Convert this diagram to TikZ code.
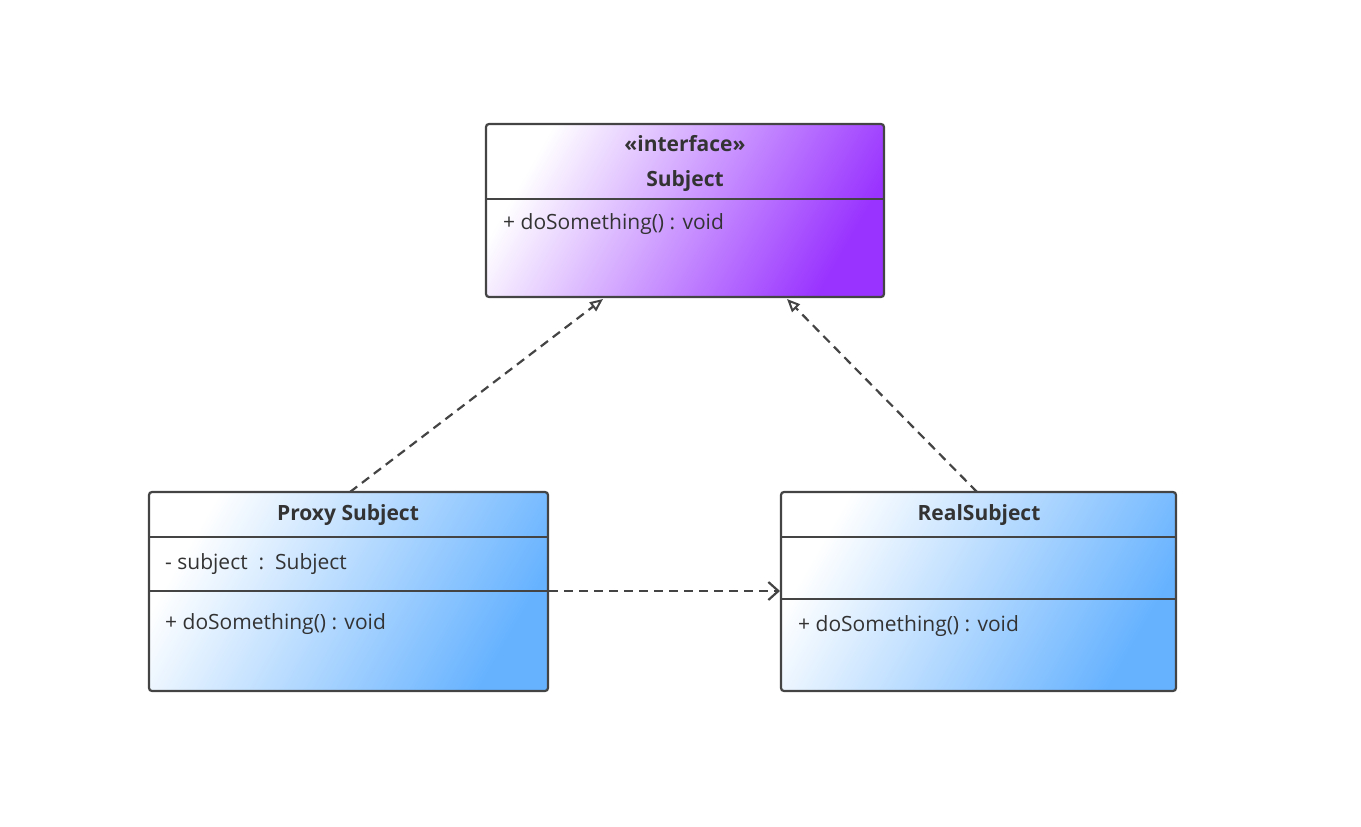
\documentclass[tikz,border=0pt]{standalone}
\usepackage{fontspec}
\setmainfont{Open Sans}
\usetikzlibrary{arrows.meta}
\definecolor{purp}{HTML}{9933FF}
\definecolor{blu}{HTML}{66B2FF}
\definecolor{txt}{HTML}{333333}
\definecolor{ln}{HTML}{444444}
\begin{document}
\begin{tikzpicture}[x=1pt,y=-1pt,
  box/.style={draw=ln,line width=2.2pt,rounded corners=3pt},
  sep/.style={draw=ln,line width=2pt},
  t/.style={text=txt,font=\fontsize{21}{24}\selectfont,inner sep=0},
  tb/.style={t,font=\fontsize{21}{24}\selectfont\bfseries},
  dashln/.style={draw=ln,line width=2.2pt,dash pattern=on 9pt off 6pt}]
\useasboundingbox (0,0) rectangle (1361,827);
% Subject
\shade[left color=white,right color=purp,shading angle=60,rounded corners=3pt] (486,124) rectangle (884,297);
\draw[box] (486,124) rectangle (884,297);
\draw[sep] (486,199) -- (884,199);
\node[tb] (s1) at (685,144) {<<interface>>};
\node[tb] (s2) at (685,181) {Subject};
\node[t,anchor=west] (s3) at (503,224) {+ doSomething() : void};
\coordinate (sub1) at (603,299);
\coordinate (sub2) at (787,299);
% Proxy
\shade[left color=white,right color=blu,shading angle=60,rounded corners=3pt] (149,492) rectangle (548,691);
\draw[box] (149,492) rectangle (548,691);
\draw[sep] (149,537) -- (548,537);
\draw[sep] (149,591) -- (548,591);
\node[tb] (p1) at (348,515) {Proxy Subject};
\node[t,anchor=west] (p2) at (165,564) {- subject~~:~~Subject};
\node[t,anchor=west] (p3) at (165,624) {+ doSomething() : void};
\coordinate (pt) at (350,492);
\coordinate (pr) at (549,591);
% Real
\shade[left color=white,right color=blu,shading angle=60,rounded corners=3pt] (781,492) rectangle (1176,691);
\draw[box] (781,492) rectangle (1176,691);
\draw[sep] (781,537) -- (1176,537);
\draw[sep] (781,599) -- (1176,599);
\node[tb] (r1) at (979,515) {RealSubject};
\node[t,anchor=west] (r3) at (798,626) {+ doSomething() : void};
\coordinate (rt) at (977,492);
\coordinate (rl) at (780,591);
% connectors
\draw[dashln,-{Triangle[open,length=13pt,width=11pt,line width=2pt]}] (pt) -- (sub1);
\draw[dashln,-{Triangle[open,length=13pt,width=11pt,line width=2pt]}] (rt) -- (sub2);
\draw[dashln,-{Straight Barb[length=10pt,width=18pt,line width=2.2pt]}] (pr) -- (rl);
\end{tikzpicture}
\end{document}
